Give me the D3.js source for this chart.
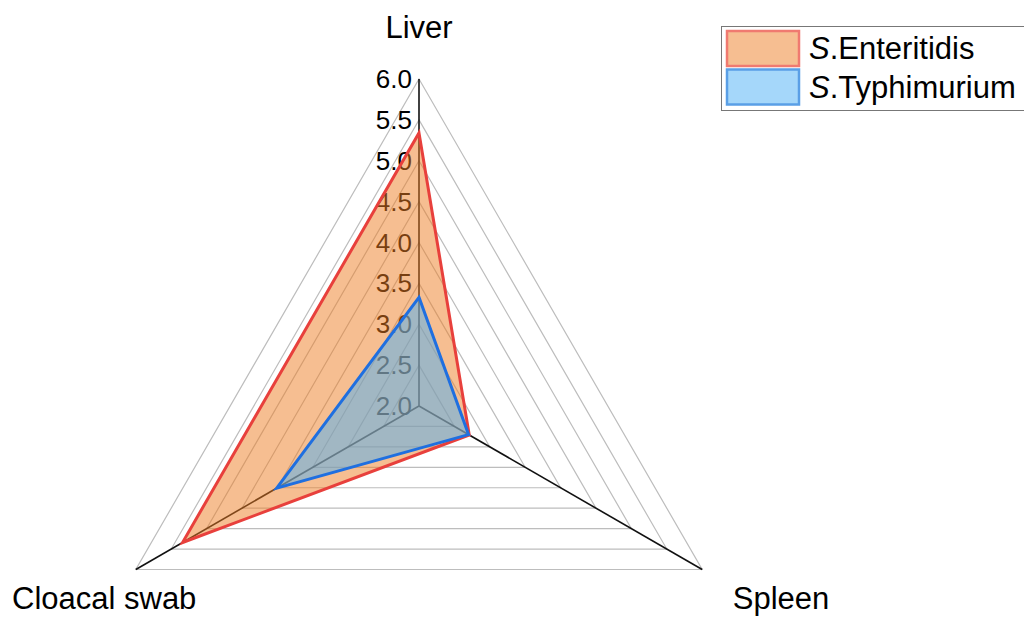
<!DOCTYPE html>
<html>
<head>
<meta charset="utf-8">
<script src="https://cdn.jsdelivr.net/npm/d3@7"></script>
<style>
html,body{margin:0;padding:0;background:#fff;}
svg{display:block;}
text{font-family:"Liberation Sans",Arial,sans-serif;}
</style>
</head>
<body>
<svg id="chart" width="1024" height="617"></svg>
<script>
const categories = ["Liver", "Spleen", "Cloacal swab"];
const enteritidis = [5.34, 2.71, 5.34];
const typhimurium = [3.33, 2.70, 4.01];
const tickValues = [2.0, 2.5, 3.0, 3.5, 4.0, 4.5, 5.0, 5.5, 6.0];
const seriesNames = ["Enteritidis", "Typhimurium"];

const svg = d3.select("#chart");
const cx = 419, cy = 406, R = 327;
const r = d3.scaleLinear().domain([2, 6]).range([0, R]);
const angle = d3.scaleOrdinal().domain(categories).range([-90, 30, 150].map(a => a * Math.PI / 180));
const pt = (cat, v) => [cx + r(v) * Math.cos(angle(cat)), cy + r(v) * Math.sin(angle(cat))];

// grid triangles
const gridLevels = tickValues.filter(v => v > 2);
svg.append("g").selectAll("polygon").data(gridLevels).join("polygon")
  .attr("points", v => categories.map(c => pt(c, v).join(",")).join(" "))
  .attr("fill", "none").attr("stroke", "#bdbdbd").attr("stroke-width", 1.2);

// axes
svg.append("g").selectAll("line").data(categories).join("line")
  .attr("x1", cx).attr("y1", cy)
  .attr("x2", c => pt(c, 6)[0]).attr("y2", c => pt(c, 6)[1])
  .attr("stroke", "#111").attr("stroke-width", 1.6);

// tick labels
svg.append("g").selectAll("text").data(tickValues).join("text")
  .attr("x", cx - 7).attr("y", v => pt("Liver", v)[1])
  .attr("text-anchor", "end").attr("dominant-baseline", "central")
  .attr("font-size", 26).attr("fill", "#000")
  .text(v => d3.format(".1f")(v));

// series polygons
const series = [
  {name: seriesNames[0], values: enteritidis, fill: "rgb(237,125,35)", stroke: "#e8403c"},
  {name: seriesNames[1], values: typhimurium, fill: "rgb(75,175,245)", stroke: "#1f6fe0"}
];
svg.append("g").selectAll("polygon").data(series).join("polygon")
  .attr("points", s => categories.map((c, i) => pt(c, s.values[i]).join(",")).join(" "))
  .attr("fill", s => s.fill).attr("fill-opacity", 0.5)
  .attr("stroke", s => s.stroke).attr("stroke-width", 3).attr("stroke-linejoin", "miter");

// axis labels
const labelPos = {"Liver": [419, 38, "middle"], "Spleen": [781, 609, "middle"], "Cloacal swab": [12, 609, "start"]};
svg.append("g").selectAll("text").data(categories).join("text")
  .attr("x", c => labelPos[c][0]).attr("y", c => labelPos[c][1])
  .attr("text-anchor", c => labelPos[c][2])
  .attr("font-size", 31).attr("fill", "#000")
  .text(c => c);

// legend
const lg = svg.append("g");
lg.append("rect").attr("x", 721.5).attr("y", 26.5).attr("width", 320).attr("height", 84)
  .attr("fill", "#fff").attr("stroke", "#777").attr("stroke-width", 1);
const swStroke = ["#f07a70", "#5a9fe6"];
series.forEach((s, i) => {
  const y0 = 31 + i * 38.5;
  lg.append("rect").attr("x", 727).attr("y", y0).attr("width", 72).attr("height", 35)
    .attr("fill", s.fill).attr("fill-opacity", 0.5)
    .attr("stroke", swStroke[i]).attr("stroke-width", 2.5);
  const t = lg.append("text").attr("x", 809).attr("y", y0 + 28).attr("font-size", 31).attr("fill", "#000");
  t.append("tspan").attr("font-style", "italic").text("S");
  t.append("tspan").text("." + s.name);
});
</script>
</body>
</html>
